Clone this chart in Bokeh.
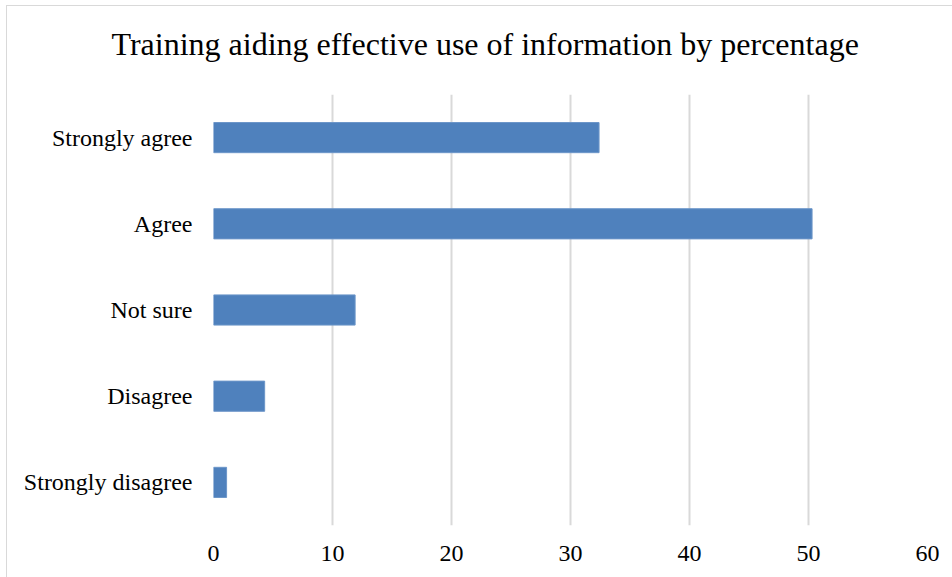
from bokeh.plotting import figure
from bokeh.models import FactorRange, Range1d, FixedTicker, Title
from bokeh.embed import file_html
from bokeh.resources import INLINE

categories = ["Strongly agree", "Agree", "Not sure", "Disagree", "Strongly disagree"]
percentages = [32.4, 50.3, 11.9, 4.3, 1.1]
x_ticks = [0, 10, 20, 30, 40, 50, 60]
title_text = "Training aiding effective use of information by percentage"

FONT = "Liberation Serif"

# figure offset (chart border sits at x=6, y=5 in the window)
OX, OY = 6, 5

p = figure(
    width=952 - OX, height=577 - OY,
    y_range=FactorRange(factors=list(reversed(categories))),
    x_range=Range1d(0, 60),
    output_backend="svg", toolbar_location=None,
    min_border_left=206, min_border_right=26, min_border_top=88, min_border_bottom=53,
)
p.margin = (OY, 0, 0, OX)
p.styles = {"border-top": "1.5px solid #d9d9d9", "border-left": "1.5px solid #d9d9d9",
            "box-sizing": "border-box"}

p.hbar(y=categories, right=percentages, height=0.35, left=0,
       fill_color="#4f81bd", line_color="#6d96c9", line_width=1)

# spacer between the title and the plot frame
spacer = Title(text=" ", text_font_size="1px", standoff=30)
p.add_layout(spacer, "above")
main_title = Title(text=title_text, text_font=FONT, text_font_size="32px",
                   text_font_style="normal", text_color="#000000",
                   align="left", offset=-102, standoff=0)
p.add_layout(main_title, "above")

p.xaxis.ticker = FixedTicker(ticks=x_ticks)
for ax in (p.xaxis[0], p.yaxis[0]):
    ax.axis_line_color = None
    ax.major_tick_line_color = None
    ax.minor_tick_line_color = None
    ax.major_label_text_font = FONT
    ax.major_label_text_font_size = "24px"
    ax.major_label_text_color = "#000000"
p.xaxis.major_label_standoff = 14
p.yaxis.major_label_standoff = 15

p.xgrid.grid_line_color = "#d9d9d9"
p.xgrid.grid_line_width = 2
p.ygrid.grid_line_color = None
p.outline_line_color = None
p.background_fill_color = "white"
p.border_fill_color = "white"

open("out.html", "w").write(file_html(p, INLINE))
